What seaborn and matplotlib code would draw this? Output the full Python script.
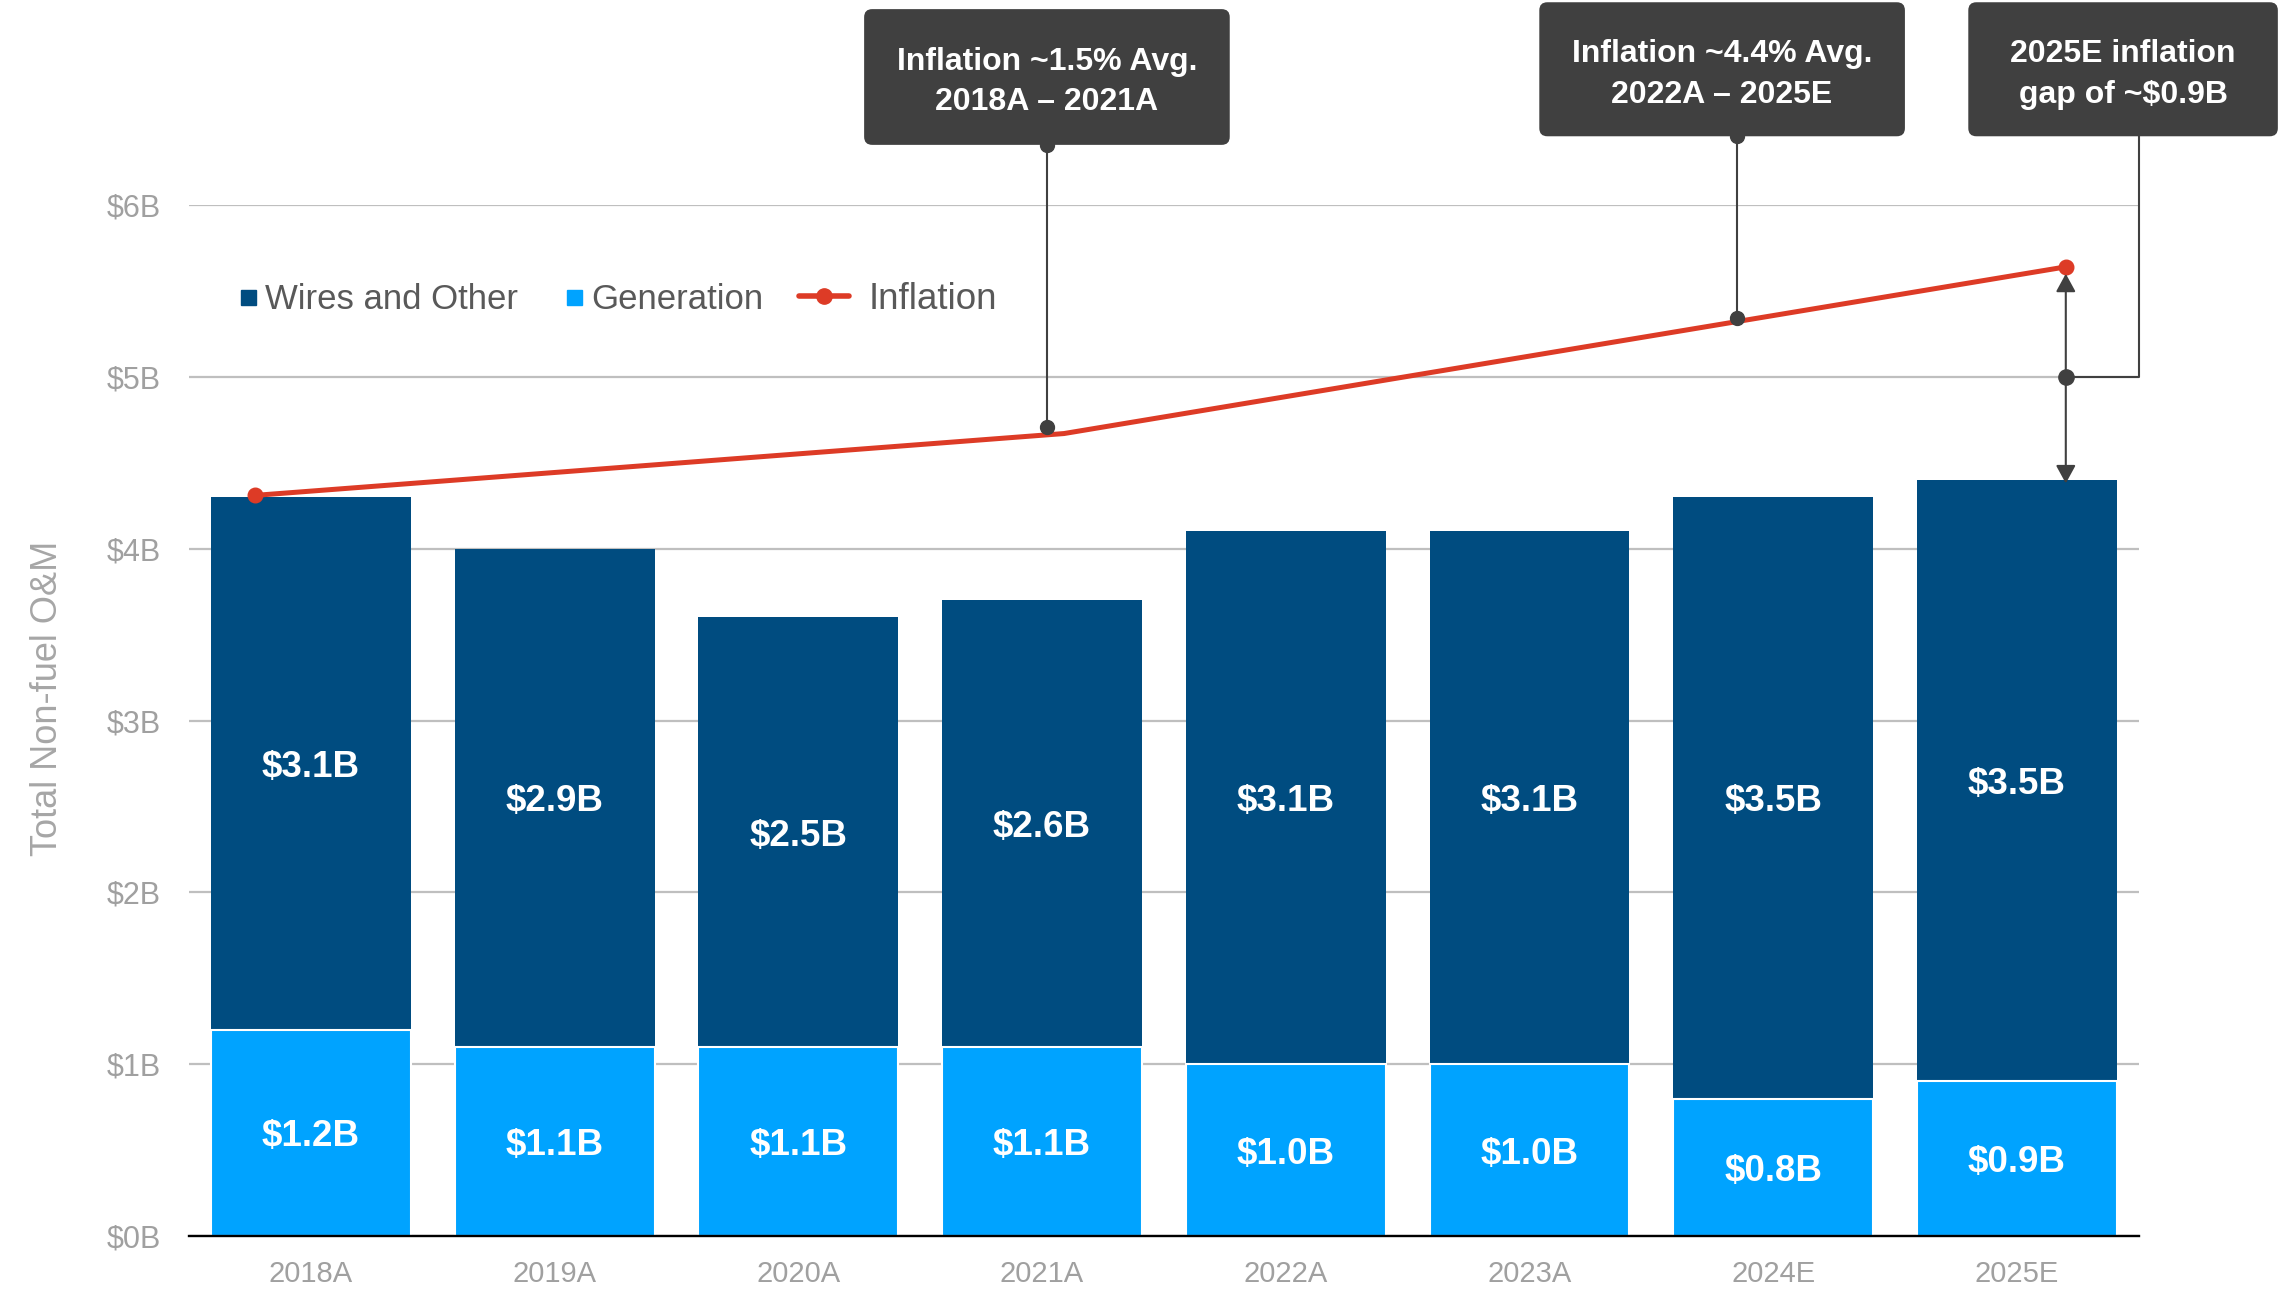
import numpy as np
import pandas as pd
import seaborn as sns
import matplotlib.pyplot as plt
from matplotlib.lines import Line2D
from matplotlib.legend_handler import HandlerLine2D
from matplotlib.patches import FancyBboxPatch

# data ($B)
years = ['2018A', '2019A', '2020A', '2021A', '2022A', '2023A', '2024E', '2025E']
generation = [1.2, 1.1, 1.1, 1.1, 1.0, 1.0, 0.8, 0.9]
wires_other = [3.1, 2.9, 2.5, 2.6, 3.1, 3.1, 3.5, 3.5]
# inflation path (category position, $B)
infl_pos = [-0.23, 3.09, 7.2]
infl_val = [4.31, 4.67, 5.64]

WIRES = '#004C80'
GEN = '#00A3FF'
RED = '#DD3B26'
DARK = '#404040'
TICK = '#A0A0A0'

df = pd.DataFrame({'year': years, 'generation': generation, 'wires': wires_other})
df['total'] = df['generation'] + df['wires']

sns.set_theme(style='white')
plt.rcParams['font.family'] = ['Liberation Sans', 'DejaVu Sans']

fig = plt.figure(figsize=(22.82, 12.91), dpi=100)
ax = fig.add_axes([0.0828, 0.0426, 0.8545, 0.7986])

# stacked bars: totals in dark blue, generation drawn over them
sns.barplot(data=df, x='year', y='total', color=WIRES, saturation=1, width=0.82,
            errorbar=None, linewidth=0, ax=ax, zorder=2)
sns.barplot(data=df, x='year', y='generation', color=GEN, saturation=1, width=0.82,
            errorbar=None, edgecolor='white', linewidth=1.5, ax=ax, zorder=3)

for i, row in df.iterrows():
    ax.text(i, row['generation'] / 2, f"${row['generation']:.1f}B", ha='center',
            va='center_baseline', color='white', fontsize=26.5, fontweight='bold', zorder=6)
    ax.text(i, row['generation'] + row['wires'] / 2, f"${row['wires']:.1f}B", ha='center',
            va='center_baseline', color='white', fontsize=26.5, fontweight='bold', zorder=6)

# inflation line
ax.plot(infl_pos, infl_val, color=RED, lw=3.6, marker='o', ms=10.5, markevery=[0, len(infl_pos) - 1],
        zorder=7, solid_joinstyle='round', clip_on=False)

ax.set_xlim(-0.5, 7.5)
ax.set_ylim(0, 6)
ax.set_yticks(range(7))
ax.set_yticklabels([f'${v}B' for v in range(7)])
ax.set_xlabel('')
ax.set_ylabel('Total Non-fuel O&M', fontsize=26, color='#A6A6A6')
ax.yaxis.set_label_coords(-0.0636, 0.521)
ax.tick_params(axis='y', length=0, pad=20, labelsize=22, labelcolor=TICK)
ax.tick_params(axis='x', length=0, pad=17, labelsize=21, labelcolor=TICK)
ax.yaxis.grid(True, color='#BFBFBF', lw=1.6)
ax.xaxis.grid(False)
ax.set_axisbelow(True)
for s in ['left', 'top', 'right']:
    ax.spines[s].set_visible(False)
ax.spines['bottom'].set_color('black')
ax.spines['bottom'].set_linewidth(1.7)
ax.spines['bottom'].set_zorder(8)

# callout boxes
boxes = [
    ((2.27, 6.35), 1.50, 0.79, 'Inflation ~1.5% Avg.\n2018A \u2013 2021A'),
    ((5.04, 6.40), 1.50, 0.78, 'Inflation ~4.4% Avg.\n2022A \u2013 2025E'),
    ((6.80, 6.40), 1.27, 0.78, '2025E inflation\ngap of ~$0.9B'),
]
for (x0, y0), w, h, txt in boxes:
    ax.add_patch(FancyBboxPatch((x0, y0), w, h, boxstyle='round,pad=0,rounding_size=0.033',
                                mutation_aspect=1.42, fc=DARK, ec='none', clip_on=False, zorder=10))
    ax.text(x0 + w / 2, y0 + h / 2 - 0.03, txt, ha='center', va='center', color='white',
            fontsize=23, fontweight='bold', linespacing=1.45, zorder=11, clip_on=False)

# connectors
ax.plot([3.02, 3.02], [6.35, 4.71], color=DARK, lw=1.5, marker='o', ms=10, clip_on=False, zorder=9)
ax.plot([5.85, 5.85], [6.40, 5.34], color=DARK, lw=1.5, marker='o', ms=10, clip_on=False, zorder=9)
ax.plot([7.5, 7.5, 7.2], [6.40, 5.0, 5.0], color=DARK, lw=1.5, clip_on=False, zorder=9)
ax.plot([7.2], [5.0], color=DARK, marker='o', ms=11, clip_on=False, zorder=9)
for tip in [5.60, 4.38]:
    ax.annotate('', xy=(7.2, tip), xytext=(7.2, 5.0), annotation_clip=False, zorder=9,
                arrowprops=dict(arrowstyle='-|>,head_length=0.55,head_width=0.3', color=DARK,
                                lw=1.5, shrinkA=0, shrinkB=0, mutation_scale=20))


class EndDot(HandlerLine2D):
    def get_xdata(self, legend, xdescent, ydescent, width, height, fontsize):
        xdata, _ = super().get_xdata(legend, xdescent, ydescent, width, height, fontsize)
        return xdata, [xdata[-1]]


h_wires = Line2D([], [], ls='none', marker='s', ms=10.8, color=WIRES)
h_gen = Line2D([], [], ls='none', marker='s', ms=10.8, color=GEN)
h_infl = Line2D([], [], color=RED, lw=4, marker='o', ms=11)

fig.legend(handles=[h_wires, h_gen], labels=['Wires and Other', 'Generation'], loc='center left',
           bbox_to_anchor=(0.1052, 0.768), ncol=2, frameon=False, fontsize=25, numpoints=1,
           handlelength=0.46, handletextpad=0.26, columnspacing=1.38, borderpad=0,
           borderaxespad=0, labelcolor='#595959')
fig.legend(handles=[h_infl], labels=['Inflation'], loc='center left', bbox_to_anchor=(0.3501, 0.768),
           frameon=False, fontsize=26.5, numpoints=1, handlelength=1.35, handletextpad=0.55,
           borderpad=0, borderaxespad=0, labelcolor='#595959', handler_map={h_infl: EndDot()})

fig.savefig('out.png', dpi=100)
